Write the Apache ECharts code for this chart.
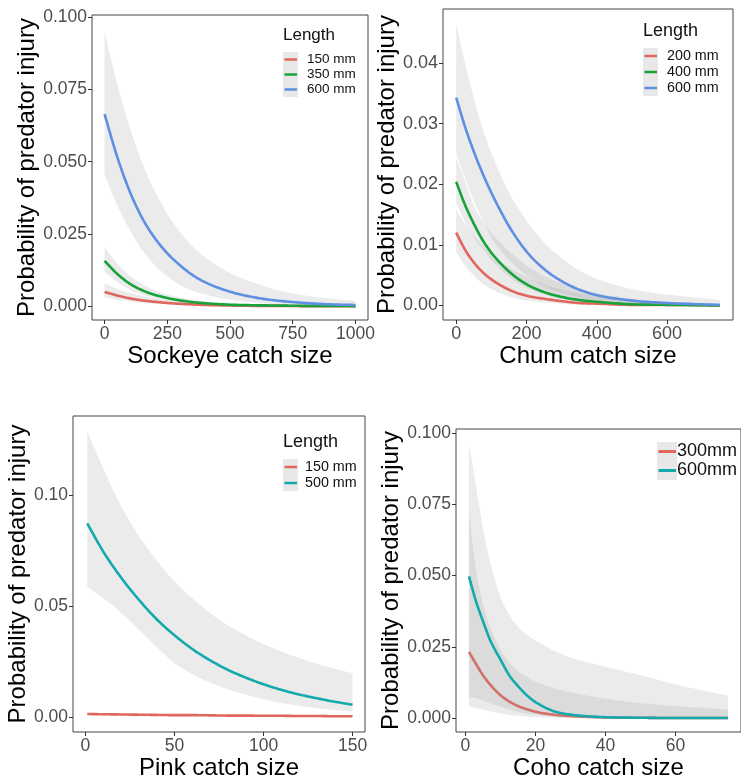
<!DOCTYPE html>
<html><head><meta charset="utf-8">
<script src="https://cdn.jsdelivr.net/npm/echarts@6/dist/echarts.min.js"></script>
<style>html,body{margin:0;padding:0;background:#fff}#c{width:741px;height:781px}</style>
</head><body><div id="c"></div>
<script>
// ---------- Panel 1: Sockeye ----------
const sockeyeX = [0,50,100,150,200,250,300,350,400,500,600,700,800,900,1000];
const sockeye150   = [0.0049,0.0037,0.0027,0.0020,0.0015,0.0011,0.0008,0.0006,0.0004,0.0002,0.0001,0.0001,0.0000,0.0000,0.0000];
const sockeye150Hi = [0.0078,0.0060,0.0046,0.0035,0.0027,0.0020,0.0015,0.0011,0.0008,0.0005,0.0003,0.0002,0.0001,0.0001,0.0000];
const sockeye150Lo = [0.0031,0.0022,0.0016,0.0011,0.0008,0.0006,0.0004,0.0003,0.0002,0.0001,0.0000,0.0000,0.0000,0.0000,0.0000];
const sockeye350   = [0.0157,0.0112,0.0078,0.0055,0.0039,0.0028,0.0020,0.0014,0.0010,0.0005,0.0003,0.0002,0.0001,0.0001,0.0000];
const sockeye350Hi = [0.0205,0.0148,0.0105,0.0076,0.0055,0.0040,0.0030,0.0022,0.0016,0.0009,0.0005,0.0003,0.0002,0.0001,0.0001];
const sockeye350Lo = [0.0120,0.0084,0.0057,0.0040,0.0028,0.0019,0.0013,0.0009,0.0006,0.0003,0.0001,0.0001,0.0000,0.0000,0.0000];
const sockeye600   = [0.0665,0.0518,0.0398,0.0305,0.0236,0.0183,0.0142,0.0108,0.0083,0.0050,0.0030,0.0018,0.0011,0.0006,0.0004];
const sockeye600Hi = [0.0950,0.0770,0.0620,0.0495,0.0400,0.0320,0.0258,0.0207,0.0170,0.0115,0.0080,0.0053,0.0037,0.0026,0.0019];
const sockeye600Lo = [0.0455,0.0350,0.0265,0.0195,0.0142,0.0103,0.0074,0.0054,0.0040,0.0022,0.0012,0.0006,0.0003,0.0002,0.0001];
const sockeyeXTicks = [0,250,500,750,1000];
const sockeyeYTicks = [0,0.025,0.05,0.075,0.1];
const sockeyeLegend = ['150 mm','350 mm','600 mm'];

// ---------- Panel 2: Chum ----------
const chumX = [0,25,50,75,100,150,200,250,300,350,400,500,600,750];
const chum200   = [0.0120,0.0092,0.0071,0.0055,0.0043,0.0026,0.0016,0.0011,0.0007,0.0004,0.0003,0.0001,0.0001,0.0000];
const chum200Hi = [0.0158,0.0135,0.0115,0.0099,0.0085,0.0063,0.0047,0.0035,0.0026,0.0020,0.0015,0.0009,0.0005,0.0002];
const chum200Lo = [0.0088,0.0066,0.0049,0.0036,0.0027,0.0015,0.0008,0.0005,0.0003,0.0001,0.0001,0.0000,0.0000,0.0000];
const chum400   = [0.0204,0.0166,0.0135,0.0108,0.0087,0.0056,0.0035,0.0022,0.0014,0.0009,0.0006,0.0002,0.0001,0.0000];
const chum400Hi = [0.0245,0.0205,0.0165,0.0140,0.0120,0.0090,0.0066,0.0049,0.0036,0.0027,0.0020,0.0011,0.0006,0.0003];
const chum400Lo = [0.0168,0.0138,0.0112,0.0094,0.0075,0.0047,0.0029,0.0018,0.0011,0.0007,0.0004,0.0002,0.0001,0.0000];
const chum600   = [0.0343,0.0295,0.0254,0.0218,0.0186,0.0131,0.0089,0.0060,0.0040,0.0026,0.0017,0.0008,0.0004,0.0001];
const chum600Hi = [0.0465,0.0400,0.0342,0.0292,0.0252,0.0187,0.0140,0.0104,0.0078,0.0058,0.0044,0.0027,0.0018,0.0009];
const chum600Lo = [0.0250,0.0210,0.0172,0.0142,0.0112,0.0075,0.0050,0.0032,0.0021,0.0013,0.0008,0.0003,0.0001,0.0000];
const chumXTicks = [0,200,400,600];
const chumYTicks = [0,0.01,0.02,0.03,0.04];
const chumLegend = ['200 mm','400 mm','600 mm'];

// ---------- Panel 3: Pink ----------
const pinkX = [1,10,20,30,40,50,60,70,80,90,100,110,120,130,140,150];
const pink150   = [0.0013,0.0012,0.0011,0.0010,0.0009,0.0008,0.0008,0.0007,0.0006,0.0006,0.0005,0.0005,0.0004,0.0004,0.0003,0.0003];
const pink500   = [0.0872,0.0745,0.0628,0.0528,0.0440,0.0368,0.0306,0.0255,0.0212,0.0177,0.0147,0.0122,0.0101,0.0084,0.0068,0.0055];
const pink500Hi = [0.1285,0.1120,0.0950,0.0815,0.0705,0.0610,0.0535,0.0468,0.0412,0.0368,0.0328,0.0295,0.0265,0.0240,0.0217,0.0197];
const pink500Lo = [0.0587,0.0535,0.0470,0.0392,0.0315,0.0242,0.0193,0.0155,0.0125,0.0100,0.0080,0.0063,0.0050,0.0039,0.0031,0.0025];
const pinkXTicks = [0,50,100,150];
const pinkYTicks = [0,0.05,0.10];
const pinkLegend = ['150 mm','500 mm'];

// ---------- Panel 4: Coho ----------
const cohoX = [1,3,5,7,10,12.5,15,17.5,20,25,30,35,40,50,60,75];
const coho300   = [0.0232,0.0190,0.0150,0.0118,0.0080,0.0058,0.0042,0.0031,0.0022,0.0012,0.0007,0.0004,0.0002,0.0001,0.0000,0.0000];
const coho300Hi = [0.0720,0.0520,0.0400,0.0320,0.0240,0.0195,0.0165,0.0145,0.0128,0.0105,0.0090,0.0078,0.0068,0.0052,0.0042,0.0030];
const coho300Lo = [0.0040,0.0035,0.0030,0.0024,0.0016,0.0011,0.0008,0.0005,0.0003,0.0001,0.0000,0.0000,0.0000,0.0000,0.0000,0.0000];
const coho600   = [0.0497,0.0410,0.0340,0.0275,0.0205,0.0150,0.0112,0.0080,0.0056,0.0025,0.0012,0.0006,0.0003,0.0001,0.0000,0.0000];
const coho600Hi = [0.0965,0.0815,0.0667,0.0550,0.0425,0.0362,0.0320,0.0292,0.0272,0.0238,0.0212,0.0195,0.0180,0.0150,0.0118,0.0078];
const coho600Lo = [0.0075,0.0070,0.0062,0.0052,0.0040,0.0030,0.0022,0.0016,0.0012,0.0006,0.0003,0.0002,0.0001,0.0000,0.0000,0.0000];
const cohoXTicks = [0,20,40,60];
const cohoYTicks = [0,0.025,0.05,0.075,0.1];
const cohoLegend = ['300mm','600mm'];

const yTitle = 'Probability of predator injury';
const legendTitle = 'Length';

// ---------- styling ----------
const FONT = '"Liberation Sans", Arial, sans-serif';
const RED = '#E0665E', GREEN = '#15A33A', BLUE = '#5E8FE3', TEAL = '#14AAAD';
const RIBBON = 'rgba(153,153,153,0.2)';

// monotone cubic smoothing of pixel points (drawing only)
function monotonePts(p, sub) {
  const n = p.length;
  if (n < 3) return p.slice();
  const dx = [], s = [];
  for (let i = 0; i < n - 1; i++) {
    dx[i] = p[i + 1][0] - p[i][0];
    s[i] = dx[i] === 0 ? 0 : (p[i + 1][1] - p[i][1]) / dx[i];
  }
  const m = new Array(n);
  m[0] = s[0]; m[n - 1] = s[n - 2];
  for (let i = 1; i < n - 1; i++) m[i] = s[i - 1] * s[i] <= 0 ? 0 : (s[i - 1] + s[i]) / 2;
  for (let i = 0; i < n - 1; i++) {
    if (s[i] === 0) { m[i] = 0; m[i + 1] = 0; continue; }
    const a = m[i] / s[i], b = m[i + 1] / s[i], h = a * a + b * b;
    if (h > 9) { const t = 3 / Math.sqrt(h); m[i] = t * a * s[i]; m[i + 1] = t * b * s[i]; }
  }
  const out = [p[0]];
  for (let i = 0; i < n - 1; i++) {
    const h = dx[i];
    for (let k = 1; k <= sub; k++) {
      const t = k / sub, t2 = t * t, t3 = t2 * t;
      const y = (2*t3 - 3*t2 + 1) * p[i][1] + (t3 - 2*t2 + t) * h * m[i] + (-2*t3 + 3*t2) * p[i + 1][1] + (t3 - t2) * h * m[i + 1];
      out.push([p[i][0] + t * h, y]);
    }
  }
  return out;
}

function ribbon(gi, xs, lo, hi) {
  return {
    type: 'custom', xAxisIndex: gi, yAxisIndex: gi, silent: true, clip: true,
    data: xs.map((x, i) => [x, lo[i], hi[i]]),
    encode: { x: 0, y: [1, 2] },
    renderItem(params, api) {
      if (params.dataIndex !== 0) return;
      const up = xs.map((x, i) => api.coord([x, hi[i]]));
      const dn = xs.map((x, i) => api.coord([x, lo[i]]));
      const pts = monotonePts(up, 12).concat(monotonePts(dn, 12).reverse());
      return { type: 'polygon', shape: { points: pts }, style: { fill: RIBBON } };
    }
  };
}

function line(gi, xs, ys, color, name) {
  return {
    type: 'custom', name, xAxisIndex: gi, yAxisIndex: gi, silent: true, clip: true,
    data: xs.map((x, i) => [x, ys[i]]),
    encode: { x: 0, y: 1 },
    renderItem(params, api) {
      if (params.dataIndex !== 0) return;
      const pts = monotonePts(xs.map((x, i) => api.coord([x, ys[i]])), 12);
      return { type: 'polyline', shape: { points: pts },
        style: { stroke: color, lineWidth: 2.6, fill: 'none', lineJoin: 'round', lineCap: 'butt' } };
    }
  };
}

function xAxis(gi, min, max, ticks, name, fs) {
  return {
    gridIndex: gi, type: 'value', min, max,
    axisLine: { show: false, onZero: false }, splitLine: { show: false },
    axisTick: { show: true, length: 4, customValues: ticks, lineStyle: { color: '#333', width: 1 } },
    axisLabel: { customValues: ticks, margin: 5, fontSize: fs, color: '#4d4d4d', fontFamily: FONT,
                 formatter: v => String(v) },
    name, nameLocation: 'middle', nameGap: 24,
    nameTextStyle: { fontSize: 24, color: '#000', fontFamily: FONT }
  };
}
function yAxis(gi, min, max, ticks, dec, gap, fs) {
  return {
    gridIndex: gi, type: 'value', min, max,
    axisLine: { show: false, onZero: false }, splitLine: { show: false },
    axisTick: { show: true, length: 4, customValues: ticks, lineStyle: { color: '#333', width: 1 } },
    axisLabel: { customValues: ticks, margin: 5, fontSize: fs, color: '#4d4d4d', fontFamily: FONT,
                 formatter: v => Number(v).toFixed(dec) },
    name: yTitle, nameLocation: 'middle', nameGap: gap, nameRotate: 90,
    nameTextStyle: { fontSize: 24, color: '#000', fontFamily: FONT }
  };
}

function legend(cfg) {
  const els = [];
  if (cfg.title) {
    els.push({ type: 'text', x: cfg.keyX, y: cfg.titleY, silent: true,
      style: { text: cfg.title, fontSize: cfg.titleFs, fontFamily: FONT, fill: '#111', align: 'left', verticalAlign: 'middle' } });
  }
  const n = cfg.names.length;
  els.push({ type: 'rect', silent: true, shape: { x: cfg.keyX, y: cfg.keyTop, width: cfg.keyW, height: cfg.rowH * n },
    style: { fill: '#e8e8e8' } });
  cfg.names.forEach((nm, i) => {
    const cy = cfg.keyTop + cfg.rowH * (i + 0.5);
    els.push({ type: 'line', silent: true, shape: { x1: cfg.keyX + 1.5, y1: cy, x2: cfg.keyX + cfg.keyW - 1, y2: cy },
      style: { stroke: cfg.colors[i], lineWidth: cfg.lw } });
    els.push({ type: 'text', x: cfg.textX, y: cy, silent: true,
      style: { text: nm, fontSize: cfg.fs, fontFamily: FONT, fill: '#111', align: 'left', verticalAlign: 'middle' } });
  });
  return els;
}

const option = {
  animation: false,
  backgroundColor: '#fff',
  grid: [
    { left: 92, top: 15, width: 276, height: 305, show: true, borderColor: '#444', borderWidth: 1, backgroundColor: 'transparent', containLabel: false },
    { left: 443, top: 9, width: 290, height: 311, show: true, borderColor: '#444', borderWidth: 1, backgroundColor: 'transparent', containLabel: false },
    { left: 73, top: 416, width: 292, height: 316, show: true, borderColor: '#444', borderWidth: 1, backgroundColor: 'transparent', containLabel: false },
    { left: 456, top: 429, width: 289, height: 303, show: true, borderColor: '#444', borderWidth: 1, backgroundColor: 'transparent', containLabel: false }
  ],
  xAxis: [
    xAxis(0, -50, 1050, sockeyeXTicks, 'Sockeye catch size', 17.5),
    xAxis(1, -37.5, 787.5, chumXTicks, 'Chum catch size', 18),
    xAxis(2, -7, 157, pinkXTicks, 'Pink catch size', 17.5),
    xAxis(3, -2.7, 78.7, cohoXTicks, 'Coho catch size', 17.5)
  ],
  yAxis: [
    yAxis(0, -0.0048, 0.1008, sockeyeYTicks, 3, 51, 17.5),
    yAxis(1, -0.0024, 0.0489, chumYTicks, 2, 41, 18),
    yAxis(2, -0.0068, 0.1356, pinkYTicks, 2, 43, 17.5),
    yAxis(3, -0.0049, 0.1014, cohoYTicks, 3, 52, 17.5)
  ],
  series: [
    ribbon(0, sockeyeX, sockeye150Lo, sockeye150Hi), line(0, sockeyeX, sockeye150, RED, sockeyeLegend[0]),
    ribbon(0, sockeyeX, sockeye350Lo, sockeye350Hi), line(0, sockeyeX, sockeye350, GREEN, sockeyeLegend[1]),
    ribbon(0, sockeyeX, sockeye600Lo, sockeye600Hi), line(0, sockeyeX, sockeye600, BLUE, sockeyeLegend[2]),

    ribbon(1, chumX, chum200Lo, chum200Hi), line(1, chumX, chum200, RED, chumLegend[0]),
    ribbon(1, chumX, chum400Lo, chum400Hi), line(1, chumX, chum400, GREEN, chumLegend[1]),
    ribbon(1, chumX, chum600Lo, chum600Hi), line(1, chumX, chum600, BLUE, chumLegend[2]),

    line(2, pinkX, pink150, RED, pinkLegend[0]),
    ribbon(2, pinkX, pink500Lo, pink500Hi), line(2, pinkX, pink500, TEAL, pinkLegend[1]),

    ribbon(3, cohoX, coho300Lo, coho300Hi), line(3, cohoX, coho300, RED, cohoLegend[0]),
    ribbon(3, cohoX, coho600Lo, coho600Hi), line(3, cohoX, coho600, TEAL, cohoLegend[1])
  ],
  graphic: [].concat(
    legend({ title: legendTitle, titleY: 35.5, titleFs: 17, keyX: 283, keyW: 15, keyTop: 52, rowH: 15, textX: 307, fs: 13.5, lw: 2.5, names: sockeyeLegend, colors: [RED, GREEN, BLUE] }),
    legend({ title: legendTitle, titleY: 31, titleFs: 18, keyX: 643, keyW: 15, keyTop: 48, rowH: 16, textX: 667, fs: 14.3, lw: 2.5, names: chumLegend, colors: [RED, GREEN, BLUE] }),
    legend({ title: legendTitle, titleY: 442, titleFs: 18, keyX: 283, keyW: 15, keyTop: 459, rowH: 16, textX: 305, fs: 14.3, lw: 2.5, names: pinkLegend, colors: [RED, TEAL] }),
    legend({ title: null, keyX: 657, keyW: 20, keyTop: 442, rowH: 19, textX: 677, fs: 18, lw: 3, names: cohoLegend, colors: [RED, TEAL] })
  )
};

const chart = echarts.init(document.getElementById('c'), null, { renderer: 'canvas' });
chart.setOption(option);
</script>
</body></html>
